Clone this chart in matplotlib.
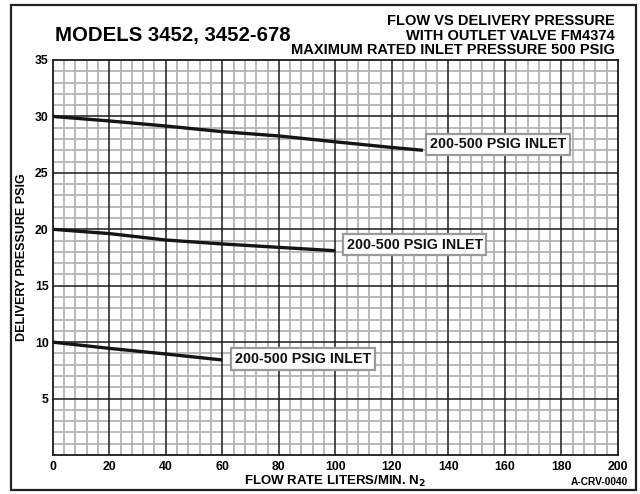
import numpy as np
import matplotlib.pyplot as plt
from matplotlib.patches import Rectangle

# data
flow_top = [0, 20, 40, 60, 80, 100, 120, 131]
press_top = [30.0, 29.6, 29.15, 28.65, 28.27, 27.75, 27.25, 27.0]
flow_mid = [0, 20, 40, 60, 80, 100]
press_mid = [20.0, 19.62, 19.05, 18.7, 18.4, 18.1]
flow_low = [0, 20, 40, 60]
press_low = [10.0, 9.45, 8.95, 8.42]
label_text = "200-500 PSIG INLET"
label_pos = [(131, 27.55), (101.5, 18.65), (62, 8.5)]
x_ticks = list(range(0, 201, 20))
y_ticks = list(range(5, 36, 5))

plt.rcParams['font.family'] = ['Liberation Sans', 'DejaVu Sans']
plt.rcParams['font.weight'] = 'bold'

fig = plt.figure(figsize=(6.4, 4.94), dpi=100)
W, H = 640.0, 494.0

# outer frame
fig.patches.append(Rectangle((11 / W, 1 - 490 / H), (636 - 11) / W, (490 - 5) / H,
                             transform=fig.transFigure, fill=False,
                             edgecolor='#222222', linewidth=1.6))

ax = fig.add_axes([52.7 / W, (H - 455) / H, (618 - 52.7) / W, (455 - 60) / H])
ax.set_xlim(0, 200)
ax.set_ylim(0, 35)

# grid
for xv in np.arange(0, 201, 4):
    if xv % 20:
        ax.axvline(xv, color='#b4b4b4', linewidth=1.3, zorder=1)
for yv in np.arange(0, 36, 1):
    if yv % 5:
        ax.axhline(yv, color='#b4b4b4', linewidth=1.3, zorder=1)
for xv in x_ticks[1:-1]:
    ax.axvline(xv, color='#1a1a1a', linewidth=1.1, zorder=2)
for yv in y_ticks[:-1]:
    ax.axhline(yv, color='#1a1a1a', linewidth=1.1, zorder=2)

for fl, pr in [(flow_top, press_top), (flow_mid, press_mid), (flow_low, press_low)]:
    ax.plot(fl, pr, color='#151515', linewidth=2.4, zorder=3, solid_capstyle='butt')

for (lx, ly) in label_pos:
    ax.text(lx + 2.5, ly, label_text, fontsize=10.3, fontweight='bold', color='#111111',
            ha='left', va='center', zorder=5,
            bbox=dict(boxstyle='square,pad=0.25', facecolor='white',
                      edgecolor='#9a9a9a', linewidth=1.6))

ax.set_xticks(x_ticks)
ax.set_yticks(y_ticks)
ax.set_xticklabels([str(v) for v in x_ticks], fontsize=8.8, fontweight='bold')
ax.set_yticklabels([str(v) for v in y_ticks], fontsize=8.8, fontweight='bold')
ax.tick_params(length=0, pad=3)
ax.tick_params(axis='x', pad=4)
for sp in ax.spines.values():
    sp.set_linewidth(1.3)
    sp.set_color('#1a1a1a')
    sp.set_zorder(4)

fig.text(335 / W, 1 - 481 / H, r"FLOW RATE LITERS/MIN. N$_\mathbf{2}$", fontsize=9.5,
         fontweight='bold', ha='center', va='center')
fig.text(22 / W, 1 - 257 / H, "DELIVERY PRESSURE PSIG", fontsize=9, fontweight='bold',
         ha='center', va='center', rotation=90)
fig.text(628 / W, 1 - 482 / H, "A-CRV-0040", fontsize=7.3, fontweight='bold',
         ha='right', va='center')

# titles
fig.text(55 / W, 1 - 36 / H, "MODELS 3452, 3452-678", fontsize=14.7, fontweight='bold',
         ha='left', va='center')
fig.text(615 / W, 1 - 21 / H, "FLOW VS DELIVERY PRESSURE", fontsize=10.5,
         fontweight='bold', ha='right', va='center')
fig.text(615 / W, 1 - 35.7 / H, "WITH OUTLET VALVE FM4374", fontsize=10.5,
         fontweight='bold', ha='right', va='center')
fig.text(615 / W, 1 - 50 / H, "MAXIMUM RATED INLET PRESSURE 500 PSIG", fontsize=10.5,
         fontweight='bold', ha='right', va='center')

plt.savefig('out.png', dpi=100)
